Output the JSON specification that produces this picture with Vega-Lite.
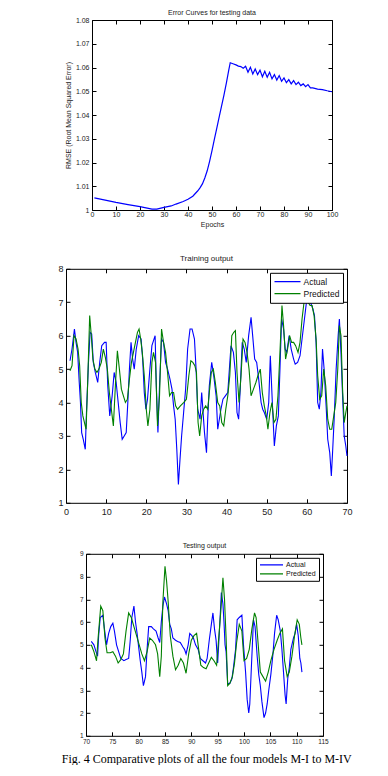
{
  "$schema": "https://vega.github.io/schema/vega-lite/v6.json",
  "background": "white",
  "padding": {"left": 0, "top": 8, "right": 0, "bottom": 0},
  "config": {
    "font": "Liberation Sans",
    "view": {"stroke": "black", "strokeWidth": 1},
    "axis": {"grid": false, "domain": false, "tickColor": "black", "tickSize": -4, "tickWidth": 1, "labelColor": "#222", "titleColor": "#222", "titleFontWeight": "normal", "labelFlush": false, "labelOverlap": false},
    "title": {"fontWeight": "normal", "color": "#222", "anchor": "middle"}
  },
  "title": {"text": "Fig. 4 Comparative plots of all the four models M-I to M-IV", "orient": "bottom", "anchor": "middle", "font": "Liberation Serif", "fontSize": 12, "fontWeight": "normal", "color": "black", "offset": 8, "dx": 30.5},
  "datasets": {
    "err": [
      {"epoch": 1, "rmse": 1.0051}, {"epoch": 5, "rmse": 1.0043}, {"epoch": 10, "rmse": 1.0032}, {"epoch": 15, "rmse": 1.0023}, {"epoch": 20, "rmse": 1.0014}, {"epoch": 23, "rmse": 1.0008}, {"epoch": 25, "rmse": 1.0004}, {"epoch": 27, "rmse": 1.0004}, {"epoch": 30, "rmse": 1.0011}, {"epoch": 33, "rmse": 1.0017}, {"epoch": 35, "rmse": 1.0025}, {"epoch": 38, "rmse": 1.0036},
      {"epoch": 40, "rmse": 1.0045}, {"epoch": 42, "rmse": 1.0058}, {"epoch": 44, "rmse": 1.0080}, {"epoch": 45, "rmse": 1.0093}, {"epoch": 46, "rmse": 1.0110}, {"epoch": 47, "rmse": 1.0135}, {"epoch": 48, "rmse": 1.0165}, {"epoch": 49, "rmse": 1.0205}, {"epoch": 50, "rmse": 1.0250}, {"epoch": 51, "rmse": 1.0298}, {"epoch": 52, "rmse": 1.0345}, {"epoch": 53, "rmse": 1.0392}, {"epoch": 54, "rmse": 1.0438}, {"epoch": 55, "rmse": 1.0485}, {"epoch": 56, "rmse": 1.0535}, {"epoch": 57, "rmse": 1.0590}, {"epoch": 57.6, "rmse": 1.0620},
      {"epoch": 59, "rmse": 1.0615}, {"epoch": 60, "rmse": 1.0611}, {"epoch": 61, "rmse": 1.0606}, {"epoch": 62, "rmse": 1.0604}, {"epoch": 63, "rmse": 1.0597}, {"epoch": 64, "rmse": 1.0605}, {"epoch": 65, "rmse": 1.0580}, {"epoch": 66, "rmse": 1.0601}, {"epoch": 67, "rmse": 1.0573}, {"epoch": 68, "rmse": 1.0594}, {"epoch": 69, "rmse": 1.0570}, {"epoch": 70, "rmse": 1.0589},
      {"epoch": 71, "rmse": 1.0561}, {"epoch": 72, "rmse": 1.0584}, {"epoch": 73, "rmse": 1.0559}, {"epoch": 74, "rmse": 1.0580}, {"epoch": 75, "rmse": 1.0552}, {"epoch": 76, "rmse": 1.0570}, {"epoch": 77, "rmse": 1.0547}, {"epoch": 78, "rmse": 1.0566}, {"epoch": 79, "rmse": 1.0542}, {"epoch": 80, "rmse": 1.0556},
      {"epoch": 81, "rmse": 1.0536}, {"epoch": 82, "rmse": 1.0549}, {"epoch": 83, "rmse": 1.0531}, {"epoch": 84, "rmse": 1.0545}, {"epoch": 85, "rmse": 1.0528}, {"epoch": 86, "rmse": 1.0538}, {"epoch": 87, "rmse": 1.0524}, {"epoch": 88, "rmse": 1.0531}, {"epoch": 89, "rmse": 1.0519}, {"epoch": 90, "rmse": 1.0528},
      {"epoch": 91, "rmse": 1.0514}, {"epoch": 92, "rmse": 1.0514}, {"epoch": 94, "rmse": 1.0509}, {"epoch": 96, "rmse": 1.0507}, {"epoch": 98, "rmse": 1.0502}, {"epoch": 100, "rmse": 1.0498}
    ],
    "train": [
      {"t": 1, "y": 5.25, "series": "Actual"}, {"t": 1.5, "y": 5.6, "series": "Actual"}, {"t": 2.1, "y": 6.2, "series": "Actual"}, {"t": 2.5, "y": 5.8, "series": "Actual"}, {"t": 2.9, "y": 5.5, "series": "Actual"}, {"t": 3.3, "y": 4.6, "series": "Actual"}, {"t": 3.6, "y": 4.0, "series": "Actual"}, {"t": 3.9, "y": 3.1, "series": "Actual"}, {"t": 4.3, "y": 2.9, "series": "Actual"}, {"t": 4.8, "y": 2.6, "series": "Actual"},
      {"t": 5.1, "y": 3.7, "series": "Actual"}, {"t": 5.6, "y": 5.2, "series": "Actual"}, {"t": 6.0, "y": 6.1, "series": "Actual"}, {"t": 6.4, "y": 6.05, "series": "Actual"}, {"t": 6.8, "y": 5.2, "series": "Actual"}, {"t": 7.3, "y": 4.9, "series": "Actual"}, {"t": 7.9, "y": 4.6, "series": "Actual"}, {"t": 8.4, "y": 5.2, "series": "Actual"}, {"t": 8.9, "y": 5.7, "series": "Actual"}, {"t": 9.6, "y": 5.8, "series": "Actual"},
      {"t": 10, "y": 5.8, "series": "Actual"}, {"t": 10.4, "y": 4.5, "series": "Actual"}, {"t": 10.9, "y": 3.6, "series": "Actual"}, {"t": 11.5, "y": 4.2, "series": "Actual"}, {"t": 12, "y": 4.9, "series": "Actual"}, {"t": 12.5, "y": 4.6, "series": "Actual"}, {"t": 13, "y": 4.0, "series": "Actual"}, {"t": 13.5, "y": 3.4, "series": "Actual"}, {"t": 14, "y": 2.9, "series": "Actual"}, {"t": 14.5, "y": 3.0, "series": "Actual"},
      {"t": 15, "y": 3.1, "series": "Actual"}, {"t": 15.4, "y": 4.0, "series": "Actual"}, {"t": 15.8, "y": 5.0, "series": "Actual"}, {"t": 16.2, "y": 5.8, "series": "Actual"}, {"t": 16.6, "y": 5.3, "series": "Actual"}, {"t": 17, "y": 5.0, "series": "Actual"}, {"t": 17.5, "y": 5.6, "series": "Actual"}, {"t": 18.1, "y": 6.0, "series": "Actual"}, {"t": 18.7, "y": 5.9, "series": "Actual"}, {"t": 19.1, "y": 5.3, "series": "Actual"},
      {"t": 19.5, "y": 4.3, "series": "Actual"}, {"t": 19.9, "y": 3.8, "series": "Actual"}, {"t": 20.3, "y": 4.1, "series": "Actual"}, {"t": 20.9, "y": 5.0, "series": "Actual"}, {"t": 21.4, "y": 5.7, "series": "Actual"}, {"t": 22.2, "y": 6.0, "series": "Actual"}, {"t": 22.5, "y": 4.5, "series": "Actual"}, {"t": 22.9, "y": 3.1, "series": "Actual"}, {"t": 23.3, "y": 4.5, "series": "Actual"}, {"t": 23.8, "y": 5.9, "series": "Actual"},
      {"t": 24.3, "y": 5.8, "series": "Actual"}, {"t": 24.8, "y": 5.2, "series": "Actual"}, {"t": 25.3, "y": 5.0, "series": "Actual"}, {"t": 25.9, "y": 4.7, "series": "Actual"}, {"t": 26.4, "y": 4.4, "series": "Actual"}, {"t": 26.8, "y": 3.9, "series": "Actual"}, {"t": 27.2, "y": 3.5, "series": "Actual"}, {"t": 27.6, "y": 2.6, "series": "Actual"}, {"t": 28, "y": 1.55, "series": "Actual"}, {"t": 28.4, "y": 2.3, "series": "Actual"},
      {"t": 28.8, "y": 3.0, "series": "Actual"}, {"t": 29.3, "y": 3.7, "series": "Actual"}, {"t": 29.8, "y": 4.4, "series": "Actual"}, {"t": 30.3, "y": 5.6, "series": "Actual"}, {"t": 30.9, "y": 6.2, "series": "Actual"}, {"t": 31.4, "y": 6.2, "series": "Actual"}, {"t": 32, "y": 5.9, "series": "Actual"}, {"t": 32.4, "y": 5.0, "series": "Actual"}, {"t": 32.8, "y": 3.8, "series": "Actual"}, {"t": 33.4, "y": 3.5, "series": "Actual"},
      {"t": 33.8, "y": 4.3, "series": "Actual"}, {"t": 34.5, "y": 3.1, "series": "Actual"}, {"t": 35, "y": 2.5, "series": "Actual"}, {"t": 35.3, "y": 3.5, "series": "Actual"}, {"t": 35.7, "y": 4.5, "series": "Actual"}, {"t": 36.3, "y": 5.2, "series": "Actual"}, {"t": 36.8, "y": 4.8, "series": "Actual"}, {"t": 37.4, "y": 4.2, "series": "Actual"}, {"t": 37.8, "y": 3.2, "series": "Actual"}, {"t": 38.2, "y": 3.5, "series": "Actual"},
      {"t": 38.6, "y": 3.8, "series": "Actual"}, {"t": 39.1, "y": 4.1, "series": "Actual"}, {"t": 39.7, "y": 4.2, "series": "Actual"}, {"t": 40.3, "y": 4.3, "series": "Actual"}, {"t": 40.7, "y": 5.0, "series": "Actual"}, {"t": 41.1, "y": 5.7, "series": "Actual"}, {"t": 41.7, "y": 5.5, "series": "Actual"}, {"t": 42.2, "y": 4.9, "series": "Actual"}, {"t": 42.6, "y": 3.7, "series": "Actual"}, {"t": 43, "y": 3.5, "series": "Actual"},
      {"t": 43.4, "y": 4.4, "series": "Actual"}, {"t": 43.9, "y": 5.8, "series": "Actual"}, {"t": 44.4, "y": 5.6, "series": "Actual"}, {"t": 44.9, "y": 5.2, "series": "Actual"}, {"t": 45.5, "y": 6.0, "series": "Actual"}, {"t": 46.1, "y": 6.55, "series": "Actual"}, {"t": 46.5, "y": 6.0, "series": "Actual"}, {"t": 47, "y": 5.3, "series": "Actual"}, {"t": 47.5, "y": 5.2, "series": "Actual"}, {"t": 48, "y": 4.7, "series": "Actual"},
      {"t": 48.6, "y": 4.0, "series": "Actual"}, {"t": 49, "y": 3.8, "series": "Actual"}, {"t": 49.4, "y": 3.7, "series": "Actual"}, {"t": 50, "y": 3.5, "series": "Actual"}, {"t": 50.5, "y": 4.0, "series": "Actual"}, {"t": 50.9, "y": 5.4, "series": "Actual"}, {"t": 51.4, "y": 4.0, "series": "Actual"}, {"t": 51.9, "y": 2.7, "series": "Actual"}, {"t": 52.4, "y": 3.3, "series": "Actual"}, {"t": 52.9, "y": 3.6, "series": "Actual"},
      {"t": 53.3, "y": 5.0, "series": "Actual"}, {"t": 53.7, "y": 6.5, "series": "Actual"}, {"t": 54.2, "y": 6.2, "series": "Actual"}, {"t": 54.6, "y": 5.6, "series": "Actual"}, {"t": 55, "y": 5.5, "series": "Actual"}, {"t": 55.6, "y": 6.0, "series": "Actual"}, {"t": 56.1, "y": 5.6, "series": "Actual"}, {"t": 56.7, "y": 5.3, "series": "Actual"}, {"t": 57.1, "y": 5.15, "series": "Actual"}, {"t": 57.7, "y": 5.2, "series": "Actual"},
      {"t": 58.3, "y": 5.4, "series": "Actual"}, {"t": 58.8, "y": 5.9, "series": "Actual"}, {"t": 59.4, "y": 6.5, "series": "Actual"}, {"t": 59.9, "y": 7.0, "series": "Actual"}, {"t": 60.4, "y": 7.2, "series": "Actual"}, {"t": 60.9, "y": 7.0, "series": "Actual"}, {"t": 61.5, "y": 6.8, "series": "Actual"}, {"t": 61.9, "y": 6.6, "series": "Actual"}, {"t": 62.3, "y": 5.8, "series": "Actual"}, {"t": 62.7, "y": 4.0, "series": "Actual"},
      {"t": 63.1, "y": 3.8, "series": "Actual"}, {"t": 63.5, "y": 4.3, "series": "Actual"}, {"t": 63.9, "y": 5.6, "series": "Actual"}, {"t": 64.3, "y": 5.0, "series": "Actual"}, {"t": 64.8, "y": 3.9, "series": "Actual"}, {"t": 65.2, "y": 2.9, "series": "Actual"}, {"t": 65.7, "y": 2.5, "series": "Actual"}, {"t": 66.1, "y": 1.8, "series": "Actual"}, {"t": 66.4, "y": 2.5, "series": "Actual"}, {"t": 66.8, "y": 3.5, "series": "Actual"},
      {"t": 67.3, "y": 5.0, "series": "Actual"}, {"t": 67.8, "y": 6.0, "series": "Actual"}, {"t": 68.1, "y": 6.5, "series": "Actual"}, {"t": 68.5, "y": 5.5, "series": "Actual"}, {"t": 68.9, "y": 4.2, "series": "Actual"}, {"t": 69.3, "y": 3.0, "series": "Actual"}, {"t": 69.7, "y": 2.7, "series": "Actual"}, {"t": 70, "y": 2.4, "series": "Actual"},
      {"t": 1, "y": 4.95, "series": "Predicted"}, {"t": 1.5, "y": 5.1, "series": "Predicted"}, {"t": 2, "y": 6.0, "series": "Predicted"}, {"t": 2.5, "y": 5.9, "series": "Predicted"}, {"t": 3, "y": 5.6, "series": "Predicted"}, {"t": 3.4, "y": 5.1, "series": "Predicted"}, {"t": 3.8, "y": 4.0, "series": "Predicted"}, {"t": 4.2, "y": 3.6, "series": "Predicted"}, {"t": 4.6, "y": 3.4, "series": "Predicted"}, {"t": 5, "y": 3.2, "series": "Predicted"},
      {"t": 5.4, "y": 4.6, "series": "Predicted"}, {"t": 5.9, "y": 6.6, "series": "Predicted"}, {"t": 6.3, "y": 6.0, "series": "Predicted"}, {"t": 6.7, "y": 5.3, "series": "Predicted"}, {"t": 7.2, "y": 5.0, "series": "Predicted"}, {"t": 7.7, "y": 4.9, "series": "Predicted"}, {"t": 8.2, "y": 5.0, "series": "Predicted"}, {"t": 8.8, "y": 5.2, "series": "Predicted"}, {"t": 9.3, "y": 5.6, "series": "Predicted"}, {"t": 9.8, "y": 5.35, "series": "Predicted"},
      {"t": 10.3, "y": 5.0, "series": "Predicted"}, {"t": 10.8, "y": 4.3, "series": "Predicted"}, {"t": 11.3, "y": 3.8, "series": "Predicted"}, {"t": 11.8, "y": 3.3, "series": "Predicted"}, {"t": 12.3, "y": 4.5, "series": "Predicted"}, {"t": 12.8, "y": 5.55, "series": "Predicted"}, {"t": 13.3, "y": 5.0, "series": "Predicted"}, {"t": 13.8, "y": 4.4, "series": "Predicted"}, {"t": 14.3, "y": 4.2, "series": "Predicted"}, {"t": 14.8, "y": 4.0, "series": "Predicted"},
      {"t": 15.3, "y": 4.1, "series": "Predicted"}, {"t": 15.8, "y": 4.7, "series": "Predicted"}, {"t": 16.3, "y": 5.2, "series": "Predicted"}, {"t": 16.8, "y": 5.5, "series": "Predicted"}, {"t": 17.3, "y": 5.8, "series": "Predicted"}, {"t": 17.8, "y": 6.1, "series": "Predicted"}, {"t": 18.2, "y": 6.2, "series": "Predicted"}, {"t": 18.6, "y": 5.9, "series": "Predicted"}, {"t": 19, "y": 5.5, "series": "Predicted"}, {"t": 19.5, "y": 4.8, "series": "Predicted"},
      {"t": 20, "y": 3.8, "series": "Predicted"}, {"t": 20.4, "y": 3.3, "series": "Predicted"}, {"t": 20.9, "y": 3.8, "series": "Predicted"}, {"t": 21.4, "y": 5.2, "series": "Predicted"}, {"t": 21.8, "y": 5.5, "series": "Predicted"}, {"t": 22.3, "y": 5.2, "series": "Predicted"}, {"t": 22.8, "y": 3.3, "series": "Predicted"}, {"t": 23.3, "y": 4.2, "series": "Predicted"}, {"t": 23.8, "y": 6.2, "series": "Predicted"}, {"t": 24.3, "y": 5.8, "series": "Predicted"},
      {"t": 24.8, "y": 5.5, "series": "Predicted"}, {"t": 25.3, "y": 4.9, "series": "Predicted"}, {"t": 25.8, "y": 4.2, "series": "Predicted"}, {"t": 26.3, "y": 4.3, "series": "Predicted"}, {"t": 26.8, "y": 4.3, "series": "Predicted"}, {"t": 27.3, "y": 3.9, "series": "Predicted"}, {"t": 27.8, "y": 3.8, "series": "Predicted"}, {"t": 28.5, "y": 3.9, "series": "Predicted"}, {"t": 29.3, "y": 4.0, "series": "Predicted"}, {"t": 30, "y": 4.1, "series": "Predicted"},
      {"t": 30.6, "y": 4.8, "series": "Predicted"}, {"t": 31.1, "y": 5.25, "series": "Predicted"}, {"t": 31.6, "y": 5.2, "series": "Predicted"}, {"t": 32.1, "y": 5.1, "series": "Predicted"}, {"t": 32.5, "y": 4.9, "series": "Predicted"}, {"t": 32.9, "y": 3.4, "series": "Predicted"}, {"t": 33.3, "y": 3.0, "series": "Predicted"}, {"t": 33.8, "y": 3.6, "series": "Predicted"}, {"t": 34.3, "y": 3.8, "series": "Predicted"}, {"t": 34.8, "y": 3.9, "series": "Predicted"},
      {"t": 35.3, "y": 3.8, "series": "Predicted"}, {"t": 35.7, "y": 4.3, "series": "Predicted"}, {"t": 36.2, "y": 4.9, "series": "Predicted"}, {"t": 36.7, "y": 5.0, "series": "Predicted"}, {"t": 37.2, "y": 4.6, "series": "Predicted"}, {"t": 37.8, "y": 4.0, "series": "Predicted"}, {"t": 38.3, "y": 3.9, "series": "Predicted"}, {"t": 38.8, "y": 3.4, "series": "Predicted"}, {"t": 39.3, "y": 3.3, "series": "Predicted"}, {"t": 39.8, "y": 3.8, "series": "Predicted"},
      {"t": 40.3, "y": 4.2, "series": "Predicted"}, {"t": 40.8, "y": 4.8, "series": "Predicted"}, {"t": 41.3, "y": 6.0, "series": "Predicted"}, {"t": 41.8, "y": 6.1, "series": "Predicted"}, {"t": 42.2, "y": 6.15, "series": "Predicted"}, {"t": 42.6, "y": 4.9, "series": "Predicted"}, {"t": 43.1, "y": 4.0, "series": "Predicted"}, {"t": 43.6, "y": 4.8, "series": "Predicted"}, {"t": 44.1, "y": 5.9, "series": "Predicted"}, {"t": 44.6, "y": 5.8, "series": "Predicted"},
      {"t": 45.1, "y": 5.5, "series": "Predicted"}, {"t": 45.6, "y": 5.0, "series": "Predicted"}, {"t": 46.1, "y": 4.2, "series": "Predicted"}, {"t": 46.7, "y": 4.4, "series": "Predicted"}, {"t": 47.3, "y": 4.6, "series": "Predicted"}, {"t": 47.8, "y": 4.8, "series": "Predicted"}, {"t": 48.4, "y": 5.0, "series": "Predicted"}, {"t": 48.9, "y": 4.3, "series": "Predicted"}, {"t": 49.4, "y": 3.9, "series": "Predicted"}, {"t": 49.9, "y": 3.6, "series": "Predicted"},
      {"t": 50.3, "y": 3.2, "series": "Predicted"}, {"t": 50.8, "y": 3.7, "series": "Predicted"}, {"t": 51.3, "y": 4.0, "series": "Predicted"}, {"t": 51.8, "y": 3.4, "series": "Predicted"}, {"t": 52.3, "y": 3.5, "series": "Predicted"}, {"t": 52.8, "y": 4.2, "series": "Predicted"}, {"t": 53.3, "y": 5.5, "series": "Predicted"}, {"t": 53.8, "y": 6.9, "series": "Predicted"}, {"t": 54.2, "y": 6.3, "series": "Predicted"}, {"t": 54.7, "y": 5.3, "series": "Predicted"},
      {"t": 55.2, "y": 5.6, "series": "Predicted"}, {"t": 55.7, "y": 6.0, "series": "Predicted"}, {"t": 56.2, "y": 5.8, "series": "Predicted"}, {"t": 56.7, "y": 5.8, "series": "Predicted"}, {"t": 57.2, "y": 5.7, "series": "Predicted"}, {"t": 57.8, "y": 5.5, "series": "Predicted"}, {"t": 58.3, "y": 5.8, "series": "Predicted"}, {"t": 58.8, "y": 6.5, "series": "Predicted"}, {"t": 59.3, "y": 7.0, "series": "Predicted"}, {"t": 59.8, "y": 7.1, "series": "Predicted"},
      {"t": 60.3, "y": 7.0, "series": "Predicted"}, {"t": 60.8, "y": 6.9, "series": "Predicted"}, {"t": 61.3, "y": 6.9, "series": "Predicted"}, {"t": 61.8, "y": 6.6, "series": "Predicted"}, {"t": 62.3, "y": 5.9, "series": "Predicted"}, {"t": 62.7, "y": 4.8, "series": "Predicted"}, {"t": 63.2, "y": 4.1, "series": "Predicted"}, {"t": 63.7, "y": 4.2, "series": "Predicted"}, {"t": 64.2, "y": 5.0, "series": "Predicted"}, {"t": 64.7, "y": 4.5, "series": "Predicted"},
      {"t": 65.2, "y": 3.5, "series": "Predicted"}, {"t": 65.7, "y": 3.2, "series": "Predicted"}, {"t": 66.2, "y": 3.2, "series": "Predicted"}, {"t": 66.7, "y": 3.6, "series": "Predicted"}, {"t": 67.2, "y": 4.0, "series": "Predicted"}, {"t": 67.7, "y": 5.0, "series": "Predicted"}, {"t": 68.1, "y": 6.3, "series": "Predicted"}, {"t": 68.5, "y": 6.0, "series": "Predicted"}, {"t": 68.9, "y": 4.4, "series": "Predicted"}, {"t": 69.3, "y": 3.4, "series": "Predicted"},
      {"t": 69.7, "y": 3.7, "series": "Predicted"}, {"t": 70, "y": 3.9, "series": "Predicted"}
    ],
    "test": [
      {"t": 71, "y": 5.15, "series": "Actual"}, {"t": 71.5, "y": 5.0, "series": "Actual"}, {"t": 71.9, "y": 4.7, "series": "Actual"}, {"t": 72.2, "y": 4.5, "series": "Actual"}, {"t": 72.4, "y": 5.4, "series": "Actual"}, {"t": 72.7, "y": 6.2, "series": "Actual"}, {"t": 73.2, "y": 6.3, "series": "Actual"}, {"t": 73.5, "y": 5.7, "series": "Actual"}, {"t": 73.9, "y": 5.0, "series": "Actual"}, {"t": 74.3, "y": 5.5, "series": "Actual"},
      {"t": 74.7, "y": 5.8, "series": "Actual"}, {"t": 75.1, "y": 5.95, "series": "Actual"}, {"t": 75.4, "y": 5.6, "series": "Actual"}, {"t": 75.8, "y": 5.0, "series": "Actual"}, {"t": 76.2, "y": 4.7, "series": "Actual"}, {"t": 76.6, "y": 4.4, "series": "Actual"}, {"t": 77.2, "y": 4.3, "series": "Actual"}, {"t": 77.6, "y": 4.35, "series": "Actual"}, {"t": 78.1, "y": 4.4, "series": "Actual"}, {"t": 78.4, "y": 5.2, "series": "Actual"},
      {"t": 78.7, "y": 6.2, "series": "Actual"}, {"t": 79.1, "y": 6.7, "series": "Actual"}, {"t": 79.4, "y": 6.0, "series": "Actual"}, {"t": 79.7, "y": 5.5, "series": "Actual"}, {"t": 80, "y": 4.9, "series": "Actual"}, {"t": 80.3, "y": 4.3, "series": "Actual"}, {"t": 80.6, "y": 3.8, "series": "Actual"}, {"t": 80.9, "y": 3.2, "series": "Actual"}, {"t": 81.3, "y": 3.6, "series": "Actual"}, {"t": 81.6, "y": 4.8, "series": "Actual"},
      {"t": 81.9, "y": 5.8, "series": "Actual"}, {"t": 82.4, "y": 5.8, "series": "Actual"}, {"t": 82.8, "y": 5.7, "series": "Actual"}, {"t": 83.3, "y": 5.6, "series": "Actual"}, {"t": 83.7, "y": 5.3, "series": "Actual"}, {"t": 84, "y": 5.1, "series": "Actual"}, {"t": 84.3, "y": 6.0, "series": "Actual"}, {"t": 84.6, "y": 6.7, "series": "Actual"}, {"t": 84.9, "y": 7.1, "series": "Actual"}, {"t": 85.3, "y": 6.8, "series": "Actual"},
      {"t": 85.6, "y": 6.5, "series": "Actual"}, {"t": 85.9, "y": 5.9, "series": "Actual"}, {"t": 86.2, "y": 5.7, "series": "Actual"}, {"t": 86.5, "y": 5.3, "series": "Actual"}, {"t": 87, "y": 5.2, "series": "Actual"}, {"t": 87.4, "y": 5.15, "series": "Actual"}, {"t": 87.9, "y": 5.1, "series": "Actual"}, {"t": 88.4, "y": 4.9, "series": "Actual"}, {"t": 88.7, "y": 4.8, "series": "Actual"}, {"t": 89, "y": 4.6, "series": "Actual"},
      {"t": 89.4, "y": 5.0, "series": "Actual"}, {"t": 89.7, "y": 5.5, "series": "Actual"}, {"t": 90.1, "y": 5.4, "series": "Actual"}, {"t": 90.4, "y": 5.3, "series": "Actual"}, {"t": 90.8, "y": 5.0, "series": "Actual"}, {"t": 91.3, "y": 4.8, "series": "Actual"}, {"t": 91.7, "y": 4.4, "series": "Actual"}, {"t": 92.2, "y": 4.3, "series": "Actual"}, {"t": 92.7, "y": 4.2, "series": "Actual"}, {"t": 93, "y": 4.4, "series": "Actual"},
      {"t": 93.4, "y": 5.2, "series": "Actual"}, {"t": 93.8, "y": 5.9, "series": "Actual"}, {"t": 94.1, "y": 6.4, "series": "Actual"}, {"t": 94.4, "y": 5.7, "series": "Actual"}, {"t": 94.7, "y": 5.2, "series": "Actual"}, {"t": 95, "y": 4.2, "series": "Actual"}, {"t": 95.4, "y": 5.9, "series": "Actual"}, {"t": 95.7, "y": 7.3, "series": "Actual"}, {"t": 96, "y": 6.8, "series": "Actual"}, {"t": 96.2, "y": 6.0, "series": "Actual"},
      {"t": 96.4, "y": 5.0, "series": "Actual"}, {"t": 96.6, "y": 4.7, "series": "Actual"}, {"t": 96.9, "y": 3.3, "series": "Actual"}, {"t": 97.3, "y": 3.3, "series": "Actual"}, {"t": 97.7, "y": 3.5, "series": "Actual"}, {"t": 98, "y": 4.0, "series": "Actual"}, {"t": 98.4, "y": 4.8, "series": "Actual"}, {"t": 98.7, "y": 6.1, "series": "Actual"}, {"t": 99.1, "y": 6.2, "series": "Actual"}, {"t": 99.6, "y": 6.3, "series": "Actual"},
      {"t": 99.9, "y": 5.0, "series": "Actual"}, {"t": 100.3, "y": 3.8, "series": "Actual"}, {"t": 100.6, "y": 2.6, "series": "Actual"}, {"t": 100.9, "y": 2.0, "series": "Actual"}, {"t": 101.1, "y": 2.4, "series": "Actual"}, {"t": 101.4, "y": 4.0, "series": "Actual"}, {"t": 101.8, "y": 6.1, "series": "Actual"}, {"t": 102.1, "y": 5.8, "series": "Actual"}, {"t": 102.5, "y": 4.5, "series": "Actual"}, {"t": 102.8, "y": 3.7, "series": "Actual"},
      {"t": 103.1, "y": 3.2, "series": "Actual"}, {"t": 103.4, "y": 2.5, "series": "Actual"}, {"t": 103.8, "y": 1.8, "series": "Actual"}, {"t": 104.1, "y": 2.0, "series": "Actual"}, {"t": 104.4, "y": 2.4, "series": "Actual"}, {"t": 104.7, "y": 3.0, "series": "Actual"}, {"t": 105.1, "y": 3.7, "series": "Actual"}, {"t": 105.5, "y": 4.6, "series": "Actual"}, {"t": 105.8, "y": 5.5, "series": "Actual"}, {"t": 106.2, "y": 6.3, "series": "Actual"},
      {"t": 106.5, "y": 6.1, "series": "Actual"}, {"t": 106.9, "y": 5.6, "series": "Actual"}, {"t": 107.2, "y": 4.8, "series": "Actual"}, {"t": 107.5, "y": 3.8, "series": "Actual"}, {"t": 107.8, "y": 2.8, "series": "Actual"}, {"t": 108, "y": 2.4, "series": "Actual"}, {"t": 108.3, "y": 3.5, "series": "Actual"}, {"t": 108.6, "y": 4.0, "series": "Actual"}, {"t": 108.9, "y": 4.8, "series": "Actual"}, {"t": 109.4, "y": 5.3, "series": "Actual"},
      {"t": 109.7, "y": 5.5, "series": "Actual"}, {"t": 110, "y": 5.9, "series": "Actual"}, {"t": 110.3, "y": 5.4, "series": "Actual"}, {"t": 110.6, "y": 4.4, "series": "Actual"}, {"t": 110.8, "y": 4.2, "series": "Actual"}, {"t": 111, "y": 3.8, "series": "Actual"},
      {"t": 71, "y": 5.0, "series": "Predicted"}, {"t": 71.5, "y": 4.7, "series": "Predicted"}, {"t": 72, "y": 4.3, "series": "Predicted"}, {"t": 72.3, "y": 5.3, "series": "Predicted"}, {"t": 72.8, "y": 6.7, "series": "Predicted"}, {"t": 73.2, "y": 6.5, "series": "Predicted"}, {"t": 73.6, "y": 5.3, "series": "Predicted"}, {"t": 74, "y": 4.65, "series": "Predicted"}, {"t": 74.6, "y": 4.65, "series": "Predicted"}, {"t": 75.1, "y": 4.7, "series": "Predicted"},
      {"t": 75.6, "y": 4.5, "series": "Predicted"}, {"t": 76.1, "y": 4.2, "series": "Predicted"}, {"t": 76.6, "y": 4.35, "series": "Predicted"}, {"t": 77.1, "y": 4.6, "series": "Predicted"}, {"t": 77.6, "y": 5.6, "series": "Predicted"}, {"t": 78.1, "y": 6.4, "series": "Predicted"}, {"t": 78.6, "y": 6.2, "series": "Predicted"}, {"t": 79.1, "y": 5.8, "series": "Predicted"}, {"t": 79.6, "y": 5.4, "series": "Predicted"}, {"t": 80.1, "y": 5.0, "series": "Predicted"},
      {"t": 80.6, "y": 4.6, "series": "Predicted"}, {"t": 81.1, "y": 4.3, "series": "Predicted"}, {"t": 81.6, "y": 4.7, "series": "Predicted"}, {"t": 82.1, "y": 5.3, "series": "Predicted"}, {"t": 82.6, "y": 5.2, "series": "Predicted"}, {"t": 83.2, "y": 5.0, "series": "Predicted"}, {"t": 83.6, "y": 4.6, "series": "Predicted"}, {"t": 84, "y": 3.6, "series": "Predicted"}, {"t": 84.3, "y": 4.5, "series": "Predicted"}, {"t": 84.6, "y": 6.9, "series": "Predicted"},
      {"t": 85, "y": 8.45, "series": "Predicted"}, {"t": 85.3, "y": 7.8, "series": "Predicted"}, {"t": 85.6, "y": 6.9, "series": "Predicted"}, {"t": 86, "y": 5.4, "series": "Predicted"}, {"t": 86.5, "y": 4.5, "series": "Predicted"}, {"t": 87, "y": 3.9, "series": "Predicted"}, {"t": 87.5, "y": 4.1, "series": "Predicted"}, {"t": 88, "y": 4.4, "series": "Predicted"}, {"t": 88.5, "y": 4.2, "series": "Predicted"}, {"t": 89, "y": 3.75, "series": "Predicted"},
      {"t": 89.5, "y": 4.6, "series": "Predicted"}, {"t": 90, "y": 5.2, "series": "Predicted"}, {"t": 90.5, "y": 5.4, "series": "Predicted"}, {"t": 91, "y": 5.5, "series": "Predicted"}, {"t": 91.4, "y": 4.8, "series": "Predicted"}, {"t": 91.8, "y": 4.1, "series": "Predicted"}, {"t": 92.3, "y": 4.0, "series": "Predicted"}, {"t": 92.8, "y": 3.95, "series": "Predicted"}, {"t": 93.3, "y": 4.2, "series": "Predicted"}, {"t": 93.8, "y": 4.45, "series": "Predicted"},
      {"t": 94.3, "y": 4.3, "series": "Predicted"}, {"t": 94.8, "y": 4.1, "series": "Predicted"}, {"t": 95.2, "y": 5.3, "series": "Predicted"}, {"t": 95.6, "y": 6.5, "series": "Predicted"}, {"t": 96, "y": 7.95, "series": "Predicted"}, {"t": 96.3, "y": 7.0, "series": "Predicted"}, {"t": 96.6, "y": 5.3, "series": "Predicted"}, {"t": 96.9, "y": 3.2, "series": "Predicted"}, {"t": 97.3, "y": 3.3, "series": "Predicted"}, {"t": 97.8, "y": 3.6, "series": "Predicted"},
      {"t": 98.2, "y": 4.2, "series": "Predicted"}, {"t": 98.6, "y": 5.1, "series": "Predicted"}, {"t": 99.1, "y": 5.9, "series": "Predicted"}, {"t": 99.6, "y": 5.6, "series": "Predicted"}, {"t": 100, "y": 4.3, "series": "Predicted"}, {"t": 100.5, "y": 4.4, "series": "Predicted"}, {"t": 101, "y": 4.8, "series": "Predicted"}, {"t": 101.5, "y": 5.7, "series": "Predicted"}, {"t": 102, "y": 6.4, "series": "Predicted"}, {"t": 102.3, "y": 6.2, "series": "Predicted"},
      {"t": 102.7, "y": 5.0, "series": "Predicted"}, {"t": 103.1, "y": 3.8, "series": "Predicted"}, {"t": 103.6, "y": 3.6, "series": "Predicted"}, {"t": 104.1, "y": 3.4, "series": "Predicted"}, {"t": 104.6, "y": 3.8, "series": "Predicted"}, {"t": 105.1, "y": 4.3, "series": "Predicted"}, {"t": 105.7, "y": 4.8, "series": "Predicted"}, {"t": 106.3, "y": 5.2, "series": "Predicted"}, {"t": 106.8, "y": 5.5, "series": "Predicted"}, {"t": 107.3, "y": 5.7, "series": "Predicted"},
      {"t": 107.7, "y": 4.3, "series": "Predicted"}, {"t": 108.2, "y": 3.6, "series": "Predicted"}, {"t": 108.6, "y": 3.8, "series": "Predicted"}, {"t": 109.1, "y": 4.5, "series": "Predicted"}, {"t": 109.6, "y": 5.4, "series": "Predicted"}, {"t": 110.1, "y": 6.1, "series": "Predicted"}, {"t": 110.5, "y": 5.9, "series": "Predicted"}, {"t": 110.8, "y": 5.3, "series": "Predicted"}, {"t": 111, "y": 5.0, "series": "Predicted"}
    ]
  },
  "vconcat": [
    {
      "hconcat": [
        {"width": 63, "height": 1, "data": {"values": []}, "mark": "point", "view": {"stroke": null, "fill": "white"}},
        {
          "width": 240,
          "height": 190,
          "title": {"text": "Error Curves for testing data", "fontSize": 7, "offset": 0.5, "anchor": "middle"},
          "data": {"name": "err"},
          "layer": [
            {
              "mark": {"type": "line", "color": "#0000ff", "strokeWidth": 1.2},
              "encoding": {
                "x": {"field": "epoch", "type": "quantitative", "scale": {"domain": [0, 100], "nice": false}, "axis": {"orient": "bottom", "title": "Epochs", "values": [0, 10, 20, 30, 40, 50, 60, 70, 80, 90, 100], "labelFontSize": 7, "titleFontSize": 7, "labelPadding": 4.5, "titlePadding": 2.5}},
                "y": {"field": "rmse", "type": "quantitative", "scale": {"domain": [1, 1.08], "zero": false, "nice": false}, "axis": {"orient": "left", "title": "RMSE (Root Mean Squared Error)", "values": [1, 1.01, 1.02, 1.03, 1.04, 1.05, 1.06, 1.07, 1.08], "format": "~f", "labelFontSize": 7, "titleFontSize": 7, "labelPadding": 7, "titlePadding": 4}}
              }
            },
            {
              "mark": {"type": "line", "color": "#0000ff", "strokeWidth": 1.2, "opacity": 0},
              "encoding": {
                "x": {"field": "epoch", "type": "quantitative", "axis": {"orient": "top", "title": null, "labels": false, "values": [0, 10, 20, 30, 40, 50, 60, 70, 80, 90, 100]}},
                "y": {"field": "rmse", "type": "quantitative", "axis": {"orient": "right", "title": null, "labels": false, "values": [1, 1.01, 1.02, 1.03, 1.04, 1.05, 1.06, 1.07, 1.08]}}
              }
            }
          ],
          "resolve": {"axis": {"x": "independent", "y": "independent"}}
        }
      ],
      "spacing": 0
    },
    {
      "vconcat": [
        {
          "hconcat": [
            {"width": 57, "height": 1, "data": {"values": []}, "mark": "point", "view": {"stroke": null, "fill": "white"}},
            {
              "width": 281,
              "height": 234,
              "title": {"text": "Training output", "fontSize": 8, "offset": 2, "anchor": "middle"},
              "data": {"name": "train"},
              "layer": [
                {
                  "transform": [{"filter": "datum.series === 'Actual'"}],
                  "mark": {"type": "line", "strokeWidth": 1.1},
                  "encoding": {
                    "x": {"field": "t", "type": "quantitative", "scale": {"domain": [0, 70], "nice": false}, "axis": {"orient": "bottom", "title": null, "values": [0, 10, 20, 30, 40, 50, 60, 70], "labelFontSize": 9, "labelPadding": 8.5}},
                    "y": {"field": "y", "type": "quantitative", "scale": {"domain": [1, 8], "zero": false, "nice": false}, "axis": {"orient": "left", "title": null, "values": [1, 2, 3, 4, 5, 6, 7, 8], "labelFontSize": 9, "labelPadding": 7, "minExtent": 0}},
                    "color": {"field": "series", "type": "nominal", "scale": {"domain": ["Actual", "Predicted"], "range": ["#0000ff", "#008000"]}, "legend": {"title": null, "orient": "top-right", "offset": 4, "strokeColor": "black", "fillColor": "white", "padding": 3.5, "labelFontSize": 8.5, "labelColor": "#111", "symbolType": "stroke", "symbolSize": 676, "symbolStrokeWidth": 1.2, "clipHeight": 10.5, "rowPadding": 1, "labelOffset": 2}}
                  }
                },
                {
                  "transform": [{"filter": "datum.series === 'Predicted'"}],
                  "mark": {"type": "line", "strokeWidth": 1.1},
                  "encoding": {
                    "x": {"field": "t", "type": "quantitative", "axis": {"orient": "top", "title": null, "labels": false, "values": [0, 10, 20, 30, 40, 50, 60, 70]}},
                    "y": {"field": "y", "type": "quantitative", "axis": {"orient": "right", "title": null, "labels": false, "values": [1, 2, 3, 4, 5, 6, 7, 8]}},
                    "color": {"field": "series", "type": "nominal"}
                  }
                }
              ],
              "resolve": {"axis": {"x": "independent", "y": "independent"}}
            }
          ],
          "spacing": 0,
          "resolve": {"scale": {"color": "independent"}, "legend": {"color": "independent"}}
        },
        {
          "hconcat": [
            {"width": 77.4, "height": 1, "data": {"values": []}, "mark": "point", "view": {"stroke": null, "fill": "white"}},
            {
              "width": 237,
              "height": 182,
              "title": {"text": "Testing output", "fontSize": 7, "offset": 2.2, "anchor": "middle"},
              "data": {"name": "test"},
              "layer": [
                {
                  "transform": [{"filter": "datum.series === 'Actual'"}],
                  "mark": {"type": "line", "strokeWidth": 1.1},
                  "encoding": {
                    "x": {"field": "t", "type": "quantitative", "scale": {"domain": [70, 115], "nice": false, "zero": false}, "axis": {"orient": "bottom", "title": null, "values": [70, 75, 80, 85, 90, 95, 100, 105, 110, 115], "labelFontSize": 6.5, "labelPadding": 7}},
                    "y": {"field": "y", "type": "quantitative", "scale": {"domain": [1, 9], "zero": false, "nice": false}, "axis": {"orient": "left", "title": null, "values": [1, 2, 3, 4, 5, 6, 7, 8, 9], "labelFontSize": 6.5, "labelPadding": 7, "minExtent": 0}},
                    "color": {"field": "series", "type": "nominal", "scale": {"domain": ["Actual", "Predicted"], "range": ["#0000ff", "#008000"]}, "legend": {"title": null, "orient": "top-right", "offset": 4, "strokeColor": "black", "fillColor": "white", "padding": 3, "labelFontSize": 7, "labelColor": "#111", "symbolType": "stroke", "symbolSize": 529, "symbolStrokeWidth": 1.2, "clipHeight": 8, "rowPadding": 1, "labelOffset": 2}}
                  }
                },
                {
                  "transform": [{"filter": "datum.series === 'Predicted'"}],
                  "mark": {"type": "line", "strokeWidth": 1.1},
                  "encoding": {
                    "x": {"field": "t", "type": "quantitative", "axis": {"orient": "top", "title": null, "labels": false, "values": [70, 75, 80, 85, 90, 95, 100, 105, 110, 115]}},
                    "y": {"field": "y", "type": "quantitative", "axis": {"orient": "right", "title": null, "labels": false, "values": [1, 2, 3, 4, 5, 6, 7, 8, 9]}},
                    "color": {"field": "series", "type": "nominal"}
                  }
                }
              ],
              "resolve": {"axis": {"x": "independent", "y": "independent"}}
            }
          ],
          "spacing": 0,
          "resolve": {"scale": {"color": "independent"}, "legend": {"color": "independent"}}
        }
      ],
      "spacing": 24,
      "resolve": {"scale": {"color": "independent"}, "legend": {"color": "independent"}}
    }
  ],
  "spacing": 25.8,
  "resolve": {"scale": {"color": "independent"}, "legend": {"color": "independent"}}
}
